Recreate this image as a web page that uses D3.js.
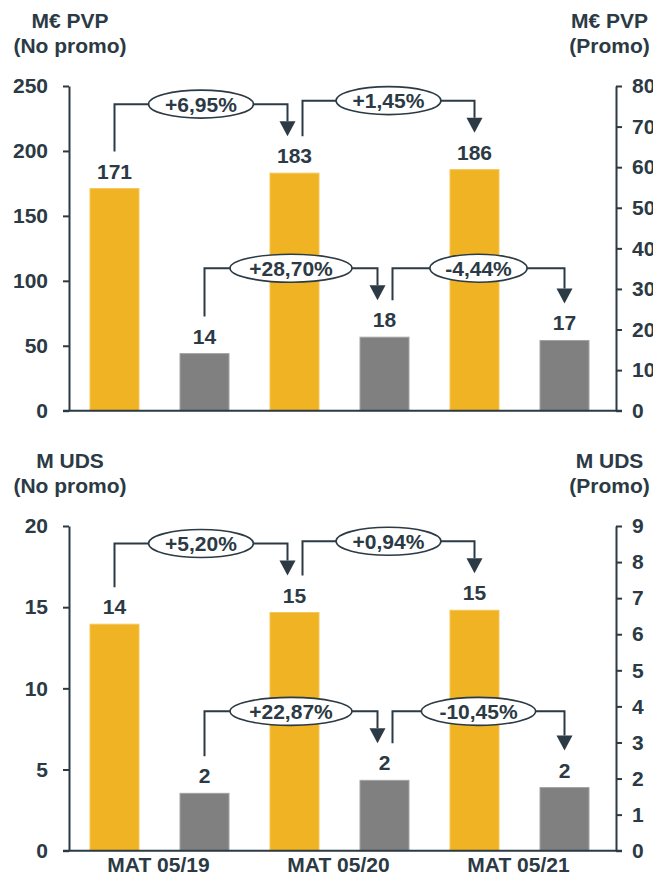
<!DOCTYPE html>
<html>
<head>
<meta charset="utf-8">
<script src="https://cdn.jsdelivr.net/npm/d3@7/dist/d3.min.js"></script>
<style>
  html, body { margin: 0; padding: 0; background: #fff; }
  svg { display: block; font-family: "Liberation Sans", Arial, sans-serif; font-weight: bold; }
</style>
</head>
<body>
<svg id="chart" width="653" height="874"></svg>
<script>
// ---- Data ----
const categories = ["MAT 05/19", "MAT 05/20", "MAT 05/21"];

const pvpNoPromo = [171.0, 182.9, 185.6];
const pvpPromo = [14.07, 18.11, 17.30];
const pvpNoPromoChange = ["+6,95%", "+1,45%"];
const pvpPromoChange = ["+28,70%", "-4,44%"];
const pvpLeftTicks = [0, 50, 100, 150, 200, 250];
const pvpRightTicks = [0, 10, 20, 30, 40, 50, 60, 70, 80];

const udsNoPromo = [13.95, 14.67, 14.81];
const udsPromo = [1.59, 1.95, 1.75];
const udsNoPromoChange = ["+5,20%", "+0,94%"];
const udsPromoChange = ["+22,87%", "-10,45%"];
const udsLeftTicks = [0, 5, 10, 15, 20];
const udsRightTicks = [0, 1, 2, 3, 4, 5, 6, 7, 8, 9];

const pvpHeaders = [["M€ PVP", "(No promo)"], ["M€ PVP", "(Promo)"]];
const udsHeaders = [["M UDS", "(No promo)"], ["M UDS", "(Promo)"]];

// ---- Style ----
const DARK = "#2b3a44";
const YELLOW = "#f0b323";
const GRAY = "#808080";
const FS = 21;

const svg = d3.select("#chart");

const x0 = d3.scaleBand().domain(categories).range([69.5, 609.5]);
const x1 = d3.scaleBand().domain(["np", "p"]).range([0, x0.bandwidth()])
  .paddingInner(0.4556).paddingOuter(0.2278);

function panel(offY, npVals, pVals, npChg, pChg, lTicks, rTicks, headers, showX) {
  const g = svg.append("g").attr("transform", `translate(0,${offY})`);
  const yTop = 86, yBot = 410.7;
  const yL = d3.scaleLinear().domain([0, d3.max(lTicks)]).range([yBot, yTop]);
  const yR = d3.scaleLinear().domain([0, d3.max(rTicks)]).range([yBot, yTop]);

  // headers
  [[70, headers[0]], [609.5, headers[1]]].forEach(([hx, lines]) => {
    lines.forEach((t, i) => {
      g.append("text").attr("x", hx).attr("y", 28.3 + i * 25)
        .attr("text-anchor", "middle").attr("font-size", FS).attr("fill", DARK).text(t);
    });
  });

  // axes
  const axL = g.append("g").attr("transform", "translate(69,0)")
    .call(d3.axisLeft(yL).tickValues(lTicks).tickSize(6).tickSizeOuter(0).tickPadding(15));
  const axR = g.append("g").attr("transform", "translate(616,0)")
    .call(d3.axisRight(yR).tickValues(rTicks).tickSize(6).tickSizeOuter(0).tickPadding(10));
  [axL, axR].forEach(ax => {
    ax.select(".domain").attr("stroke", DARK).attr("stroke-width", 2);
    ax.selectAll(".tick line").attr("stroke", DARK).attr("stroke-width", 2);
    ax.selectAll(".tick text").attr("fill", DARK).attr("font-size", FS)
      .attr("font-family", "Liberation Sans, Arial, sans-serif").attr("font-weight", "bold");
  });

  // bars
  const series = [
    { key: "np", vals: npVals, y: yL, color: YELLOW, stroke: "#f4c65a" },
    { key: "p", vals: pVals, y: yR, color: GRAY, stroke: "#a3a3a3" }
  ];
  const centers = {};
  series.forEach(s => {
    centers[s.key] = categories.map(c => x0(c) + x1(s.key) + x1.bandwidth() / 2);
    g.selectAll(null).data(categories).enter().append("rect")
      .attr("x", c => x0(c) + x1(s.key))
      .attr("y", (c, i) => s.y(s.vals[i]))
      .attr("width", x1.bandwidth())
      .attr("height", (c, i) => s.y(0) - s.y(s.vals[i]))
      .attr("fill", s.color).attr("stroke", s.stroke).attr("stroke-width", 1);
    g.selectAll(null).data(categories).enter().append("text")
      .attr("x", c => x0(c) + x1(s.key) + x1.bandwidth() / 2)
      .attr("y", (c, i) => s.y(s.vals[i]) - 10)
      .attr("text-anchor", "middle").attr("font-size", FS).attr("fill", DARK)
      .text((c, i) => d3.format(".0f")(s.vals[i]));
  });

  // x axis baseline
  g.append("line").attr("x1", 63).attr("x2", 622).attr("y1", yBot).attr("y2", yBot)
    .attr("stroke", DARK).attr("stroke-width", 2);

  // change brackets
  const brackets = [
    { s: series[0], chg: npChg },
    { s: series[1], chg: pChg }
  ];
  brackets.forEach(({ s, chg }) => {
    const cx = centers[s.key];
    chg.forEach((label, i) => {
      const topA = s.y(s.vals[i]), topB = s.y(s.vals[i + 1]);
      const xs = cx[i] + (i === 0 ? 0 : 8);
      const xe = cx[i + 1] + (i === 0 ? -7 : 0);
      const level = Math.min(topA, topB) - 69;
      const yStart = topA - 37;
      const tip = topB - 37;
      const ah = 15, aw = 8;
      g.append("path")
        .attr("d", `M${xs},${yStart}V${level}H${xe}V${tip - ah}`)
        .attr("fill", "none").attr("stroke", DARK).attr("stroke-width", 2);
      g.append("path")
        .attr("d", `M${xe - aw},${tip - ah}L${xe + aw},${tip - ah}L${xe},${tip}Z`)
        .attr("fill", DARK);
      const mx = (xs + xe) / 2;
      const ell = g.append("ellipse").attr("cx", mx).attr("cy", level)
        .attr("ry", 14).attr("fill", "#fff").attr("stroke", DARK).attr("stroke-width", 1.6);
      const t = g.append("text").attr("x", mx).attr("y", level).attr("dy", "0.36em")
        .attr("text-anchor", "middle").attr("font-size", FS).attr("fill", DARK).text(label);
      const w = t.node().getComputedTextLength();
      ell.attr("rx", w * 0.73);
    });
  });

  if (showX) {
    g.selectAll(null).data(categories).enter().append("text")
      .attr("x", c => x0(c) + x0.bandwidth() / 2 - 1)
      .attr("y", yBot + 21.6)
      .attr("text-anchor", "middle").attr("font-size", FS).attr("fill", DARK)
      .text(c => c);
  }
}

panel(0, pvpNoPromo, pvpPromo, pvpNoPromoChange, pvpPromoChange, pvpLeftTicks, pvpRightTicks, pvpHeaders, false);
panel(440, udsNoPromo, udsPromo, udsNoPromoChange, udsPromoChange, udsLeftTicks, udsRightTicks, udsHeaders, true);
</script>
</body>
</html>
